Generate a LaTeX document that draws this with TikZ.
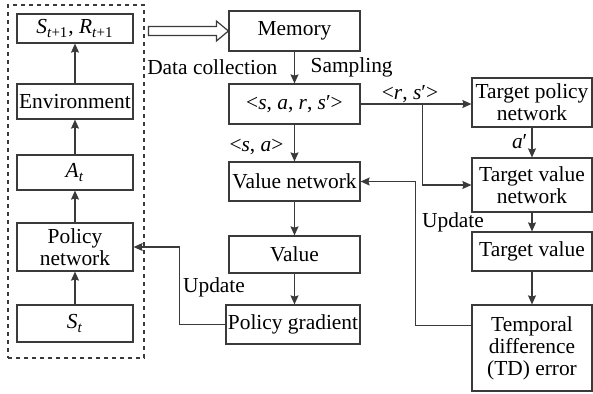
\documentclass[tikz,border=0pt]{standalone}
\usepackage{fontspec}
\setmainfont{Liberation Serif}
\usetikzlibrary{arrows.meta,calc}
\definecolor{linegray}{HTML}{3A3A3A}

\begin{document}
\begin{tikzpicture}
[
    x=0.5pt, y=-0.5pt, line width=0.6pt,
    every node/.style={font=\fontsize{10.7}{11}\selectfont},
    box/.style={draw=linegray, align=center, inner sep=0pt},
    lbox/.style={box, minimum width=58pt},
    mbox/.style={box, minimum width=65.5pt},
    rbox/.style={box, minimum width=60pt},
    lbl/.style={inner sep=0pt},
    arr/.style={draw=linegray, -{Stealth[length=4.5pt,width=4pt,inset=0.6pt]}},
]
\useasboundingbox (0,0) rectangle (593,393);
% agent side
\node [draw=linegray, dash pattern=on 2pt off 2pt, minimum width=68pt, minimum height=176.5pt] (agent) at (76,181.5) {};
\node [lbox, minimum height=14.5pt] (snext) at (75,28.5)
{\textit{S}\textsubscript{\textit{t}+1}, \textit{R}\textsubscript{\textit{t}+1}};
\node [lbox, minimum height=17.5pt] (env) at (75,101.5) {Environment};
\node [lbox, minimum height=17.5pt] (act) at (75,172.5) {\textit{A}\textsubscript{\textit{t}}};
\node [lbox, minimum height=24pt] (policy) at (75,247) {Policy\\network};
\node [lbox, minimum height=18.5pt] (state) at (75,323.5) {\textit{S}\textsubscript{\textit{t}}};
% memory and critic
\node [mbox, minimum height=20pt] (memory) at (294.5,31) {Memory};
\node [mbox, minimum height=20pt] (sample) at (294.5,104)
{<\textit{s}, \textit{a}, \textit{r}, \textit{s}′>};
\node [mbox, minimum height=19.5pt] (valnet) at (294.5,181.5) {Value network};
\node [mbox, minimum height=18.5pt] (value) at (294.5,254.5) {Value};
\node [mbox, minimum width=67pt, minimum height=19.5pt] (polgrad) at (293,324.5) {Policy gradient};
% target side
\node [rbox, minimum height=24.5pt] (tpolicy) at (532,102.5) {Target policy\\network};
\node [rbox, minimum height=27pt] (tvalnet) at (532,185) {Target value\\network};
\node [rbox, minimum height=19.5pt] (tvalue) at (532,251.5) {Target value};
\node [rbox, minimum height=43pt] (tderror) at (532,348) {Temporal\\difference\\(TD) error};

% agent loop
\draw [arr] (state) -- (policy);
\draw [arr] (policy) -- (act);
\draw [arr] (act) -- (env);
\draw [arr] (env) -- (snext);
% data collection
\draw [draw=linegray] ($(memory.west)+(-80,-4.5)$) -- ++(68,0) -- ++(0,-5.5) -- (memory.west)
    -- ++(-12,10) -- ++(0,-5.5) -- ++(-68,0) -- cycle;
\node [lbl, anchor=east] (lcollect) at (278,67) {Data collection};
\draw [arr] (memory) -- (sample);
\node [lbl, anchor=west] (lsample) at (310,67) {Sampling};
\draw [arr] (sample) -- (valnet);
\node [lbl, anchor=east] (lsa) at (284,147) {<\textit{s}, \textit{a}>};
\draw [arr] (valnet) -- (value);
\draw [arr] (value.south) -- (value.south |- polgrad.north);
\draw [arr] (polgrad.west) -- ++(-46,0) |- (policy.east);
\node [lbl] (lupdpol) at (214,287) {Update};
% target networks
\draw [arr] (sample.east) -- (sample.east -| tpolicy.west);
\node [lbl] (lrs) at (410,94) {<\textit{r}, \textit{s}′>};
\coordinate (split) at ($(sample.east)+(62,0)$);
\draw [arr] (split) |- (tvalnet.west);
\draw [arr] (tpolicy) -- (tvalnet);
\node [lbl, anchor=east] (lact) at (528,142) {\textit{a}′};
\draw [arr] (tvalnet) -- (tvalue);
\draw [arr] (tvalue) -- (tderror);
\draw [arr] ($(tderror.north west)+(0,21)$) -- ++(-56,0) |- (valnet.east);
\node [lbl] (lupdval) at (453,222) {Update};
\end{tikzpicture}
\end{document}
